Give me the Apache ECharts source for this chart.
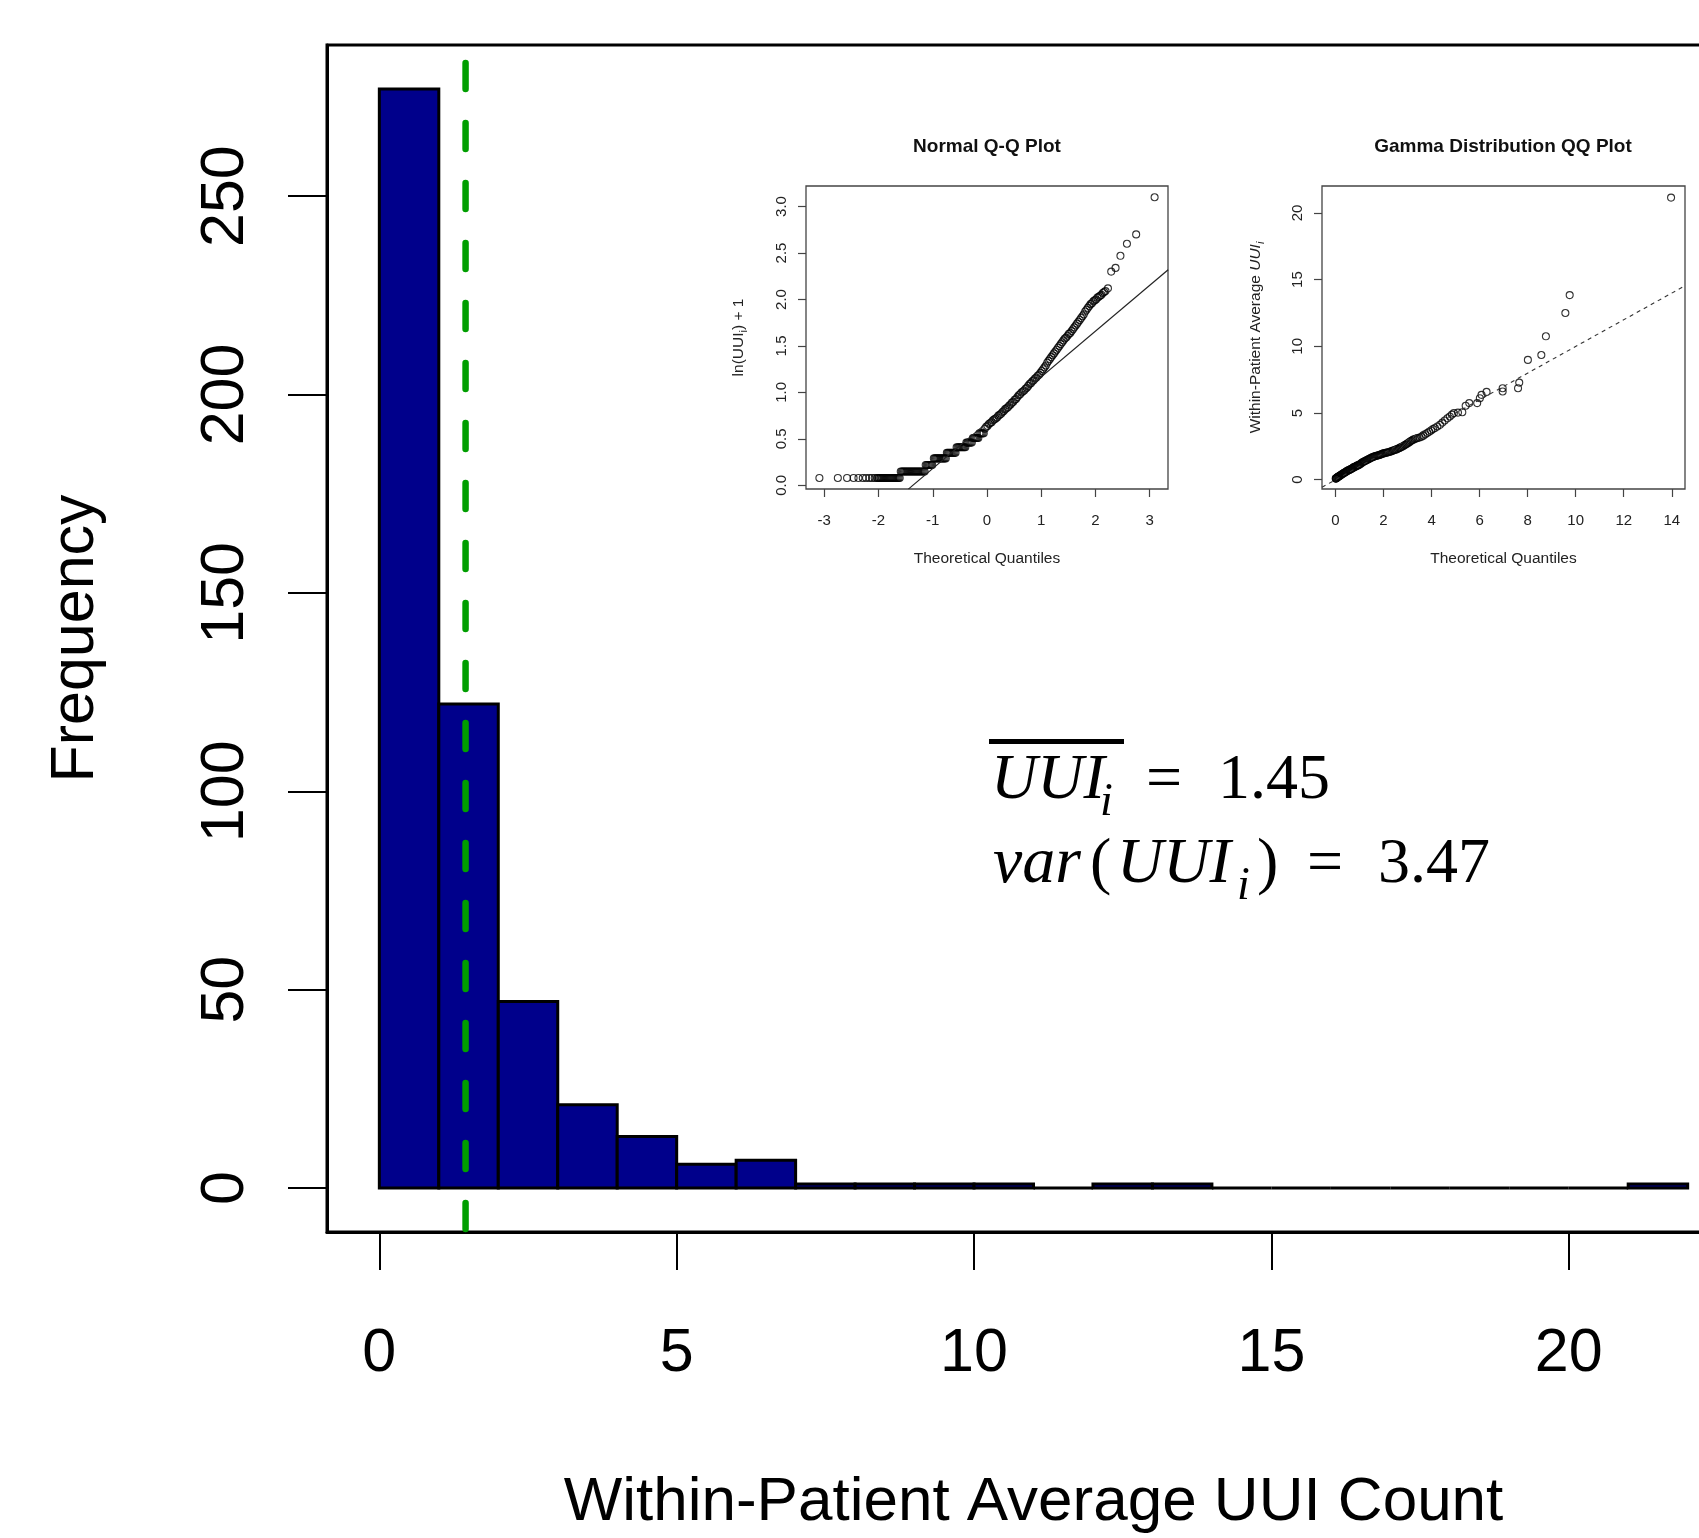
<!DOCTYPE html>
<html>
<head>
<meta charset="utf-8">
<script src="https://cdn.jsdelivr.net/npm/echarts@6/dist/echarts.min.js"></script>
<style>
  html, body { margin: 0; padding: 0; background: #fff; }
  #main { width: 1699px; height: 1538px; }
</style>
</head>
<body>
<div id="main"></div>
<script>
const SANS = "'Liberation Sans', Arial, Helvetica, sans-serif";
const SERIF = "'Liberation Serif', 'Times New Roman', serif";

// histogram: bins of width 1, counts
const binEdges = [0, 1, 2, 3, 4, 5, 6, 7, 8, 9, 10, 11, 12, 13, 14, 15, 16, 17, 18, 19, 20, 21, 22];
const binCounts = [277, 122, 47, 21, 13, 6, 7, 1, 1, 1, 1, 0, 1, 1, 0, 0, 0, 0, 0, 0, 0, 1];
const histXRange = [-0.88, 22.88];
const histYRange = [-11.08, 288.08];
const histXTicks = [0, 5, 10, 15, 20];
const histYTicks = [0, 50, 100, 150, 200, 250];
const meanUUI = 1.45;
const varUUI = 3.47;

// inset 1: normal Q-Q plot of ln(UUI)+1
const normXRange = [-3.337, 3.337];
const normYRange = [-0.039, 3.221];
const normXTicks = [-3, -2, -1, 0, 1, 2, 3];
const normYTicks = [0, 0.5, 1, 1.5, 2, 2.5, 3];
const normPoints = [
  // lowest tie
  [-3.09, 0.08], [-2.75, 0.08], [-2.58, 0.08], [-2.46, 0.08], [-2.37, 0.08], [-2.29, 0.08], [-2.23, 0.08],
  [-2.17, 0.08], [-2.12, 0.08], [-2.07, 0.08], [-2.03, 0.08], [-2.01, 0.08], [-1.99, 0.08], [-1.97, 0.08],
  [-1.95, 0.08], [-1.93, 0.08], [-1.91, 0.08], [-1.89, 0.08], [-1.87, 0.08], [-1.85, 0.08], [-1.83, 0.08],
  [-1.81, 0.08], [-1.79, 0.08], [-1.77, 0.08], [-1.75, 0.08], [-1.73, 0.08], [-1.71, 0.08], [-1.69, 0.08],
  [-1.67, 0.08], [-1.65, 0.08], [-1.63, 0.08], [-1.61, 0.08],
  // stepped ties
  [-1.59, 0.15], [-1.57, 0.15], [-1.55, 0.15], [-1.53, 0.15], [-1.51, 0.15], [-1.49, 0.15], [-1.47, 0.15],
  [-1.45, 0.15], [-1.43, 0.15], [-1.41, 0.15], [-1.39, 0.15], [-1.37, 0.15], [-1.35, 0.15], [-1.33, 0.15],
  [-1.31, 0.15], [-1.29, 0.15], [-1.27, 0.15], [-1.25, 0.15], [-1.23, 0.15], [-1.21, 0.15], [-1.19, 0.15],
  [-1.17, 0.15], [-1.15, 0.15],
  [-1.13, 0.22], [-1.11, 0.22], [-1.09, 0.22], [-1.07, 0.22], [-1.05, 0.22], [-1.03, 0.22], [-1.01, 0.22],
  [-0.98, 0.29], [-0.96, 0.29], [-0.94, 0.29], [-0.92, 0.29], [-0.90, 0.29], [-0.88, 0.29], [-0.86, 0.29],
  [-0.84, 0.29], [-0.82, 0.29], [-0.80, 0.29], [-0.78, 0.29], [-0.76, 0.29],
  [-0.74, 0.35], [-0.72, 0.35], [-0.70, 0.35], [-0.68, 0.35], [-0.66, 0.35], [-0.64, 0.35], [-0.62, 0.35],
  [-0.60, 0.35], [-0.58, 0.35],
  [-0.56, 0.41], [-0.54, 0.41], [-0.52, 0.41], [-0.50, 0.41], [-0.48, 0.41], [-0.46, 0.41], [-0.44, 0.41],
  [-0.42, 0.41], [-0.40, 0.41],
  [-0.38, 0.46], [-0.36, 0.46], [-0.34, 0.46], [-0.32, 0.46], [-0.30, 0.46], [-0.28, 0.46],
  [-0.26, 0.51], [-0.24, 0.51], [-0.22, 0.51], [-0.20, 0.51], [-0.18, 0.51], [-0.16, 0.51],
  [-0.14, 0.56], [-0.12, 0.56], [-0.10, 0.56], [-0.08, 0.56], [-0.06, 0.56],
  // upper, nearly continuous part
  [-0.04, 0.61], [-0.015, 0.63], [0.01, 0.64], [0.035, 0.66], [0.06, 0.67], [0.085, 0.68], [0.11, 0.70],
  [0.135, 0.71], [0.16, 0.72], [0.185, 0.73], [0.21, 0.75], [0.235, 0.76], [0.26, 0.77], [0.285, 0.79],
  [0.31, 0.80], [0.335, 0.82], [0.36, 0.83], [0.385, 0.84], [0.41, 0.86], [0.435, 0.87], [0.46, 0.89],
  [0.485, 0.90], [0.51, 0.92], [0.535, 0.93], [0.56, 0.95], [0.585, 0.97], [0.61, 0.98], [0.635, 1.00],
  [0.66, 1.01], [0.685, 1.02], [0.71, 1.04], [0.735, 1.05], [0.76, 1.07], [0.785, 1.09], [0.81, 1.10],
  [0.835, 1.12], [0.86, 1.13], [0.885, 1.15], [0.91, 1.16], [0.935, 1.18], [0.96, 1.19], [0.985, 1.21],
  [1.01, 1.23], [1.035, 1.25], [1.06, 1.27], [1.085, 1.29], [1.11, 1.32], [1.135, 1.34], [1.16, 1.36],
  [1.185, 1.38], [1.21, 1.40], [1.235, 1.42], [1.26, 1.44], [1.285, 1.46], [1.31, 1.48], [1.335, 1.50],
  [1.36, 1.52], [1.385, 1.54], [1.41, 1.56], [1.435, 1.58], [1.46, 1.59], [1.485, 1.61], [1.51, 1.63],
  [1.535, 1.64], [1.56, 1.66], [1.585, 1.68], [1.61, 1.70], [1.635, 1.72], [1.66, 1.74], [1.685, 1.76],
  [1.71, 1.78], [1.735, 1.80], [1.76, 1.82], [1.785, 1.84], [1.81, 1.87], [1.835, 1.89], [1.86, 1.91],
  [1.885, 1.93], [1.91, 1.95], [1.935, 1.96], [1.96, 1.98], [1.985, 1.99], [2.01, 2.00], [2.035, 2.02],
  [2.06, 2.03], [2.085, 2.04], [2.11, 2.05], [2.135, 2.07], [2.16, 2.08], [2.185, 2.09], [2.23, 2.12],
  // isolated top tail
  [2.29, 2.30], [2.37, 2.34], [2.46, 2.47], [2.58, 2.60], [2.75, 2.70], [3.09, 3.10]
];
const normLine = [[-1.45, -0.04], [3.34, 2.32]];

// inset 2: gamma Q-Q plot of within-patient average
const gamXRange = [-0.56, 14.55];
const gamYRange = [-0.70, 22.02];
const gamXTicks = [0, 2, 4, 6, 8, 10, 12, 14];
const gamYTicks = [0, 5, 10, 15, 20];
const gamPoints = [
  [0.01, 0.08], [0.02, 0.08], [0.03, 0.10], [0.05, 0.13], [0.07, 0.16], [0.09, 0.19], [0.11, 0.22],
  [0.13, 0.24], [0.15, 0.26], [0.17, 0.28], [0.19, 0.31], [0.21, 0.33], [0.24, 0.37], [0.27, 0.40],
  [0.30, 0.44], [0.33, 0.47], [0.36, 0.51], [0.39, 0.54], [0.42, 0.58], [0.45, 0.61], [0.48, 0.64],
  [0.51, 0.68], [0.54, 0.70], [0.57, 0.72], [0.60, 0.75], [0.63, 0.78], [0.66, 0.81], [0.69, 0.84],
  [0.72, 0.88], [0.75, 0.92], [0.78, 0.94], [0.81, 0.96], [0.84, 0.99], [0.87, 1.02], [0.90, 1.05],
  [0.93, 1.07], [0.96, 1.10], [0.99, 1.12],
  [1.03, 1.17], [1.07, 1.22], [1.11, 1.28], [1.15, 1.33], [1.19, 1.36], [1.23, 1.40], [1.27, 1.44],
  [1.31, 1.48], [1.35, 1.51], [1.39, 1.55], [1.43, 1.58], [1.47, 1.62], [1.51, 1.66], [1.55, 1.70],
  [1.59, 1.72], [1.63, 1.75], [1.67, 1.77], [1.71, 1.79], [1.75, 1.81], [1.79, 1.83], [1.83, 1.85],
  [1.87, 1.88], [1.91, 1.91], [1.95, 1.94], [1.99, 1.97],
  [2.04, 1.99], [2.09, 2.01], [2.14, 2.03], [2.19, 2.05], [2.24, 2.08], [2.29, 2.11], [2.34, 2.14],
  [2.39, 2.18], [2.44, 2.21], [2.49, 2.24], [2.54, 2.27], [2.59, 2.31], [2.64, 2.36], [2.69, 2.40],
  [2.74, 2.44], [2.79, 2.49], [2.84, 2.54], [2.89, 2.60], [2.94, 2.66], [2.99, 2.71], [3.04, 2.77],
  [3.09, 2.83], [3.14, 2.90], [3.19, 2.96], [3.24, 3.00], [3.30, 3.05], [3.36, 3.09], [3.42, 3.12],
  [3.50, 3.16], [3.58, 3.22], [3.66, 3.30], [3.74, 3.40], [3.82, 3.50], [3.90, 3.59], [3.98, 3.69],
  [4.06, 3.79], [4.14, 3.87], [4.24, 3.99], [4.35, 4.11], [4.45, 4.28], [4.55, 4.44], [4.66, 4.60],
  [4.76, 4.74], [4.85, 4.88], [4.93, 4.99], [5.10, 5.03], [5.28, 5.06], [5.42, 5.54], [5.57, 5.74],
  [5.90, 5.74], [6.01, 6.11], [6.08, 6.36], [6.29, 6.58], [6.96, 6.61], [6.96, 6.86], [7.60, 6.86],
  [7.65, 7.28], [8.01, 8.98], [8.57, 9.35], [8.76, 10.75], [9.57, 12.50], [9.75, 13.84], [13.97, 21.15]
];
const gamLine = [[-0.56, -0.57], [14.55, 14.54]];

const chart = echarts.init(document.getElementById('main'));

// axis helpers for the two small R-style panels
function insetX(grid, range, ticks) {
  return {
    gridIndex: grid, type: 'value', min: range[0], max: range[1],
    axisLine: { show: false, onZero: false },
    axisTick: { show: true, length: 8, customValues: ticks, lineStyle: { color: '#444', width: 1.2 } },
    axisLabel: { customValues: ticks, margin: 24, fontSize: 15, color: '#222', fontFamily: SANS },
    splitLine: { show: false },
    name: 'Theoretical Quantiles', nameLocation: 'middle', nameGap: 62,
    nameTextStyle: { fontSize: 15.5, color: '#222', fontFamily: SANS }
  };
}
function insetY(grid, range, ticks, name, rich, gap, fmt) {
  return {
    gridIndex: grid, type: 'value', min: range[0], max: range[1],
    axisLine: { show: false, onZero: false },
    axisTick: { show: true, length: 8, customValues: ticks, lineStyle: { color: '#444', width: 1.2 } },
    axisLabel: { customValues: ticks, rotate: 90, margin: 17, fontSize: 15, color: '#222', fontFamily: SANS, formatter: fmt },
    splitLine: { show: false },
    name: name, nameLocation: 'middle', nameRotate: 90, nameGap: gap,
    nameTextStyle: { fontSize: 15.5, color: '#222', fontFamily: SANS, rich: rich }
  };
}

// pieces of the formula, placed by left edge and baseline
function eq(str, left, baseline, size, italic) {
  return {
    type: 'text',
    style: {
      text: str, x: left, y: baseline - 0.3375 * size,
      font: (italic ? 'italic ' : '') + size + 'px ' + SERIF,
      fill: '#000', textAlign: 'left', textVerticalAlign: 'middle'
    }
  };
}

const histData = binCounts.map((c, i) => [binEdges[i], binEdges[i + 1], c]);

const ringStyle = { color: 'rgba(0,0,0,0)', borderColor: '#000', borderWidth: 1.1 };

chart.setOption({
  animation: false,
  backgroundColor: '#fff',
  grid: [
    { left: 327, top: 45, width: 1413, height: 1187, show: true, borderColor: '#000', borderWidth: 3, outerBoundsMode: 'none' },
    { left: 806, top: 186, width: 362, height: 303, show: true, borderColor: '#444', borderWidth: 1.3, outerBoundsMode: 'none' },
    { left: 1322, top: 186, width: 363, height: 303, show: true, borderColor: '#444', borderWidth: 1.3, outerBoundsMode: 'none' }
  ],
  xAxis: [
    {
      gridIndex: 0, type: 'value', min: histXRange[0], max: histXRange[1],
      axisLine: { show: true, onZero: false, lineStyle: { color: '#000', width: 3 } },
      axisTick: { show: true, length: 38, customValues: histXTicks, lineStyle: { color: '#000', width: 2 } },
      axisLabel: { customValues: histXTicks, margin: 92, fontSize: 61, color: '#000', fontFamily: SANS },
      splitLine: { show: false },
      name: 'Within-Patient Average UUI Count', nameLocation: 'middle', nameGap: 240,
      nameTextStyle: { fontSize: 62, color: '#000', fontFamily: SANS }
    },
    insetX(1, normXRange, normXTicks),
    insetX(2, gamXRange, gamXTicks)
  ],
  yAxis: [
    {
      gridIndex: 0, type: 'value', min: histYRange[0], max: histYRange[1],
      axisLine: { show: true, onZero: false, lineStyle: { color: '#000', width: 3 } },
      axisTick: { show: true, length: 39, customValues: histYTicks, lineStyle: { color: '#000', width: 2 } },
      axisLabel: { customValues: histYTicks, rotate: 90, margin: 70, fontSize: 61, color: '#000', fontFamily: SANS },
      splitLine: { show: false },
      name: 'Frequency', nameLocation: 'middle', nameRotate: 90, nameGap: 220,
      nameTextStyle: { fontSize: 61, color: '#000', fontFamily: SANS }
    },
    insetY(1, normYRange, normYTicks, '{a|ln(UUI}{s|i}{a|) + 1}', {
      a: { fontSize: 15.5, fontFamily: SANS, color: '#222' },
      s: { fontSize: 11, fontFamily: SANS, color: '#222', padding: [10, 0, 0, 0] }
    }, 57, v => v.toFixed(1)),
    insetY(2, gamYRange, gamYTicks, '{a|Within-Patient Average }{it|UUI}{s|i}', {
      a: { fontSize: 15.5, fontFamily: SANS, color: '#222' },
      it: { fontSize: 15.5, fontFamily: SANS, fontStyle: 'italic', color: '#222' },
      s: { fontSize: 11, fontFamily: SANS, fontStyle: 'italic', color: '#222', padding: [10, 0, 0, 0] }
    }, 56, v => String(v))
  ],
  series: [
    {
      type: 'custom', xAxisIndex: 0, yAxisIndex: 0, silent: true,
      encode: { x: [0, 1], y: 2 },
      data: histData,
      renderItem: function (params, api) {
        const top = api.coord([api.value(0), api.value(2)]);
        const base = api.coord([api.value(1), 0]);
        return {
          type: 'rect',
          shape: { x: top[0], y: top[1], width: base[0] - top[0], height: base[1] - top[1] },
          style: { fill: '#00008B', stroke: '#000', lineWidth: 3 }
        };
      }
    },
    {
      type: 'line', xAxisIndex: 0, yAxisIndex: 0, silent: true, symbol: 'none',
      data: [[meanUUI, histYRange[1]], [meanUUI, histYRange[0]]],
      lineStyle: { color: '#009E00', width: 6.5, type: [26, 34], dashOffset: 42, cap: 'round' }
    },
    {
      type: 'scatter', xAxisIndex: 1, yAxisIndex: 1, silent: true,
      symbol: 'circle', symbolSize: 7, data: normPoints, itemStyle: ringStyle
    },
    {
      type: 'line', xAxisIndex: 1, yAxisIndex: 1, silent: true, symbol: 'none', data: normLine,
      lineStyle: { color: '#222', width: 1.2 }
    },
    {
      type: 'scatter', xAxisIndex: 2, yAxisIndex: 2, silent: true,
      symbol: 'circle', symbolSize: 7, data: gamPoints, itemStyle: ringStyle
    },
    {
      type: 'line', xAxisIndex: 2, yAxisIndex: 2, silent: true, symbol: 'none', data: gamLine,
      lineStyle: { color: '#333', width: 1.1, type: [4, 4] }
    }
  ],
  graphic: [
    { type: 'text', style: { text: 'Normal Q-Q Plot', x: 987, y: 147, font: 'bold 19px ' + SANS, fill: '#111', textAlign: 'center', textVerticalAlign: 'middle' } },
    { type: 'text', style: { text: 'Gamma Distribution QQ Plot', x: 1503, y: 147, font: 'bold 19px ' + SANS, fill: '#111', textAlign: 'center', textVerticalAlign: 'middle' } },
    // mean line of the formula, with the bar over UUI_i
    { type: 'rect', shape: { x: 989, y: 739, width: 135, height: 5 }, style: { fill: '#000' } },
    eq('UUI', 991, 803, 64, true),
    eq('i', 1100, 818, 46, true),
    eq('=', 1146, 803, 64, false),
    eq(meanUUI.toFixed(2), 1218, 803, 64, false),
    // variance line
    eq('var', 993, 887, 66, true),
    eq('(', 1090, 887, 64, false),
    eq('UUI', 1117, 887, 64, true),
    eq('i', 1237, 902, 46, true),
    eq(')', 1257, 887, 64, false),
    eq('=', 1307, 887, 64, false),
    eq(varUUI.toFixed(2), 1378, 887, 64, false)
  ]
});
</script>
</body>
</html>
